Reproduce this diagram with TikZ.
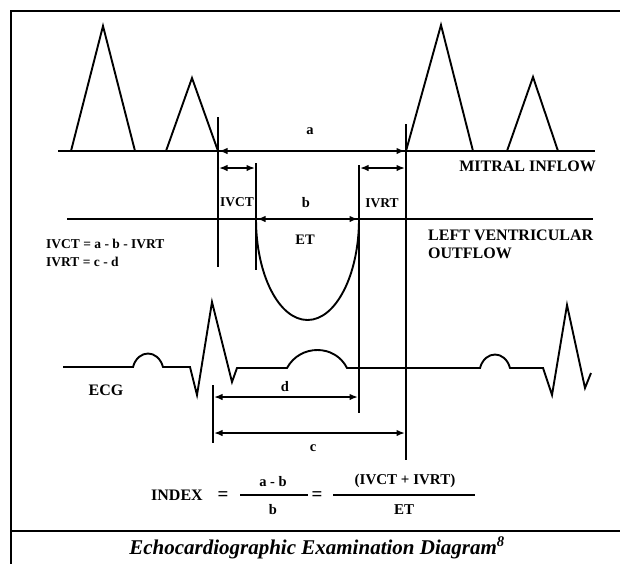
\documentclass[tikz,border=0pt]{standalone}
\usepackage{fontspec}
\setmainfont{Liberation Serif}
\usetikzlibrary{arrows.meta}
\begin{document}
\begin{tikzpicture}[x=1pt,y=-1pt,
  ln/.style={line width=1.9pt, line join=miter},
  dimline/.style={line width=1.6pt, {Latex[length=8.5pt,width=6.5pt]}-{Latex[length=8.5pt,width=6.5pt]}},
  big/.style={font=\fontsize{16}{18}\selectfont\bfseries, inner sep=0pt},
  small/.style={font=\fontsize{14.5}{17}\selectfont\bfseries, inner sep=0pt},
  framestyle/.style={line width=2.6pt},
  capt/.style={font=\fontsize{21}{24}\selectfont\bfseries\itshape, inner sep=0pt}]
\useasboundingbox (0,0) rectangle (620,563);
% frame
\coordinate (fTL) at (11,11);
\coordinate (fTR) at (622,11);
\coordinate (fBL) at (11,565);
\coordinate (sepL) at (11,531);
\coordinate (sepR) at (622,531);
\draw[framestyle] (fTR) -- (fTL) -- (fBL);
\draw[framestyle] (sepL) -- (sepR);
% mitral inflow
\coordinate (mL) at (58,151);
\coordinate (mR) at (595,151);
\draw[ln] (mL) -- (mR);
\draw[ln] (71,151) -- (103,26) -- (135,151);
\draw[ln] (166,151) -- (192,78) -- (218,151);
\draw[ln] (406,151) -- (441,25) -- (473,151);
\draw[ln] (507,151) -- (533,77) -- (558,151);
% LV outflow
\coordinate (lvL) at (67,219);
\coordinate (lvR) at (593,219);
\draw[ln] (lvL) -- (lvR);
\draw[ln] (256,219) .. controls (256,274.8) and (279.1,320) .. (307.5,320)
  .. controls (335.9,320) and (359,274.8) .. (359,219);
% vertical lines
\coordinate (v1t) at (218,117); \coordinate (v1b) at (218,267);
\coordinate (v2t) at (256,163); \coordinate (v2b) at (256,270);
\coordinate (v3t) at (359,165); \coordinate (v3b) at (359,413);
\coordinate (v4t) at (406,124); \coordinate (v4b) at (406,460);
\coordinate (v5t) at (213,385); \coordinate (v5b) at (213,443);
\foreach \v in {1,...,5} {\draw[ln] (v\v t) -- (v\v b);}
% dimension arrows
\coordinate (aL) at (219,151); \coordinate (aR) at (405,151);
\coordinate (ivcL) at (219,168); \coordinate (ivcR) at (255,168);
\coordinate (ivrL) at (360,168); \coordinate (ivrR) at (405,168);
\coordinate (bL) at (257,219); \coordinate (bR) at (358,219);
\coordinate (dL) at (214,397); \coordinate (dR) at (358,397);
\coordinate (cL) at (214,433); \coordinate (cR) at (405,433);
\draw[dimline] (aL) -- (aR);
\draw[dimline] (ivcL) -- (ivcR);
\draw[dimline] (ivrL) -- (ivrR);
\draw[dimline] (bL) -- (bR);
\draw[dimline] (dL) -- (dR);
\draw[dimline] (cL) -- (cR);
% ECG
\draw[ln] (63,367) -- (133,367) .. controls (138,349) and (158,349) .. (163,367)
  -- (190,367) -- (197,395) -- (212,302) -- (232,382) -- (237,368) -- (287,368)
  .. controls (300,344) and (335,344) .. (347,368) -- (480,368)
  .. controls (485,350) and (505,350) .. (510,368) -- (543,368)
  -- (552,395) -- (567,305) -- (585,388) -- (591,373);
% labels
\node[small] (la) at (310,131) {a};
\node[small, font=\fontsize{13.5}{17}\selectfont\bfseries] (livct) at (237,202) {IVCT};
\node[small] (lb) at (306,203) {b};
\node[small, font=\fontsize{13.5}{17}\selectfont\bfseries] (livrt) at (382,203) {IVRT};
\node[small] (let) at (305,240) {ET};
\node[big, anchor=east] (lmi) at (596,166) {MITRAL INFLOW};
\node[big, anchor=west, align=left] (llv) at (428,244) {LEFT VENTRICULAR\\OUTFLOW};
\node[small, anchor=west, align=left, font=\fontsize{13.5}{18}\selectfont\bfseries] (leq) at (46,253) {IVCT = a - b - IVRT\\IVRT = c - d};
\node[big] (lecg) at (106,390) {ECG};
\node[small] (ld) at (285,387) {d};
\node[small] (lc) at (313,448) {c};
% index formula
\node[big] (lindex) at (177,495) {INDEX};
\node[big, font=\fontsize{19}{20}\selectfont\bfseries] (leq1) at (223,496) {=};
\node[small] (num1) at (273,482) {a - b};
\node[small] (den1) at (273,510) {b};
\coordinate (bar1L) at (240,495); \coordinate (bar1R) at (308,495);
\draw[line width=1.8pt] (bar1L) -- (bar1R);
\node[big, font=\fontsize{19}{20}\selectfont\bfseries] (leq2) at (317,496) {=};
\node[small, font=\fontsize{15}{17}\selectfont\bfseries] (num2) at (405,481) {(IVCT + IVRT)};
\node[small, font=\fontsize{15}{17}\selectfont\bfseries] (den2) at (404,510) {ET};
\coordinate (bar2L) at (333,495); \coordinate (bar2R) at (475,495);
\draw[line width=1.8pt] (bar2L) -- (bar2R);
% caption
\node[capt] (cap) at (317,548) {Echocardiographic Examination Diagram\textsuperscript{8}};
\end{tikzpicture}
\end{document}
